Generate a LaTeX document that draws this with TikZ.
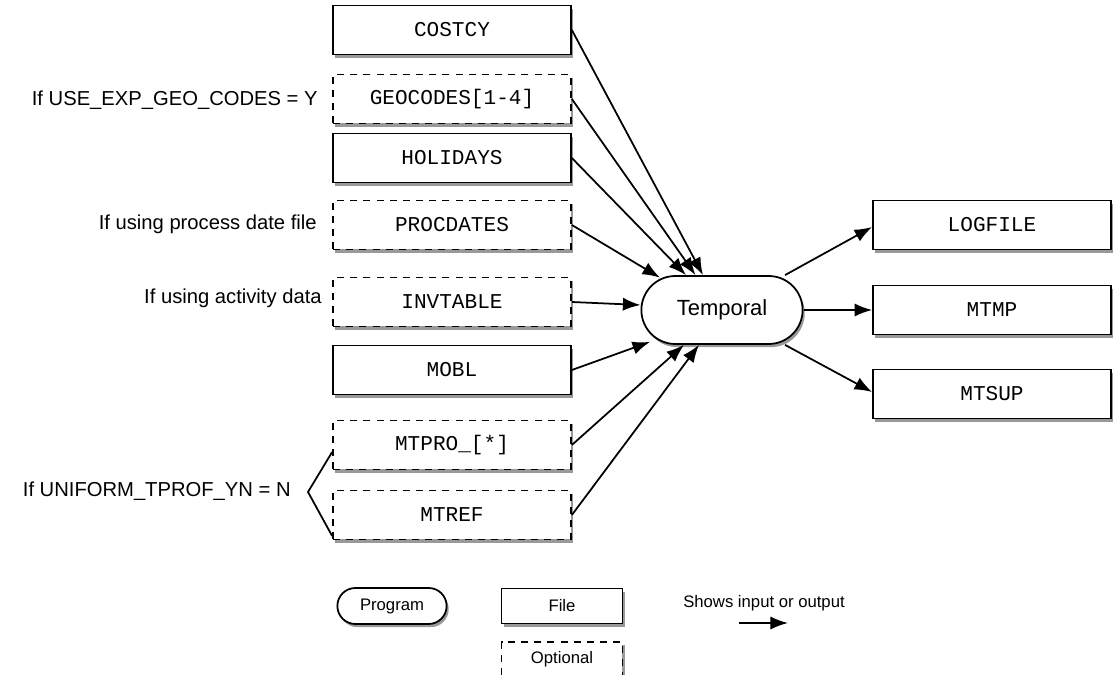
\documentclass[tikz,border=0pt]{standalone}
\usepackage{fontspec}
\setmainfont{Liberation Sans}
\setmonofont{Liberation Mono}
\usepackage{tikz}
\usetikzlibrary{shapes.misc, arrows.meta, positioning, shadows}

\begin{document}
\begin{tikzpicture}[
  x=0.02cm, y=-0.02cm,
  every node/.style = {font=\fontsize{11.5}{13}\selectfont},
  shade/.style     = {drop shadow={shadow xshift=1.2pt, shadow yshift=-1.8pt,
                      fill=black, opacity=0.4}},
  filebox/.style   = {rectangle, draw=black, line width=1pt, fill=white,
                      minimum width=4.76cm, minimum height=0.98cm, shade,
                      font=\ttfamily\fontsize{12}{14}\selectfont},
  optbox/.style    = {filebox, dash pattern=on 4pt off 3.5pt},
  program/.style   = {rounded rectangle, draw=black, line width=1pt,
                      fill=white, minimum width=3.46cm,
                      minimum height=1.36cm, shade,
                      font=\fontsize{12.5}{15}\selectfont},
  note/.style      = {anchor=east, inner sep=0pt},
  legprog/.style   = {program, minimum width=2.42cm, minimum height=0.72cm,
                      font=\fontsize{9.5}{11}\selectfont},
  legfile/.style   = {filebox, minimum width=2.42cm, minimum height=0.7cm,
                      font=\fontsize{9.5}{11}\selectfont},
  legopt/.style    = {legfile, dash pattern=on 4pt off 3.5pt},
  arrow/.style     = {-{Latex[length=10pt,width=7.5pt]}, line width=1pt}
]
\useasboundingbox (0,0) rectangle (1120,675);

% --- program ---
\node[program] (temporal) at (722,310) {Temporal};

% --- inputs (left column) ---
\node[filebox] (costcy)    at (452,30)  {COSTCY};
\node[optbox]  (geocodes)  at (452,99)  {GEOCODES[1-4]};
\node[filebox] (holidays)  at (452,158) {HOLIDAYS};
\node[optbox]  (procdates) at (452,225) {PROCDATES};
\node[optbox]  (invtable)  at (452,302) {INVTABLE};
\node[filebox] (mobl)      at (452,370) {MOBL};
\node[optbox]  (mtpro)     at (452,445) {MTPRO\_[*]};
\node[optbox]  (mtref)     at (452,515) {MTREF};

% --- outputs (right column) ---
\node[filebox] (logfile) at (992,225) {LOGFILE};
\node[filebox] (mtmp)    at (992,310) {MTMP};
\node[filebox] (mtsup)   at (992,394) {MTSUP};

% --- conditions ---
\node[note] (ifgeo)  at (318,100) {If USE\_EXP\_GEO\_CODES = Y};
\node[note] (ifproc) at (317,224) {If using process date file};
\node[note] (ifact)  at (322,298) {If using activity data};
\node[note] (ifprof) at (291,491) {If UNIFORM\_TPROF\_YN = N};
\coordinate (brtip) at (308,492);
\draw[line width=1pt] ([yshift=-0.14cm]mtpro.west) -- (brtip)
                      -- ([yshift=-0.42cm]mtref.west);

% --- Arrows in ---
\draw[arrow] (costcy.east)    -- ([xshift=-0.38cm]temporal.north);
\draw[arrow] (geocodes.east)  -- ([xshift=-0.53cm]temporal.north);
\draw[arrow] (holidays.east)  -- ([xshift=-0.72cm]temporal.north);
\draw[arrow] (procdates.east) -- ([xshift=-1.24cm,yshift=-0.05cm]temporal.north);
\draw[arrow] (invtable.east)  -- ([yshift=0.1cm]temporal.west);
\draw[arrow] (mobl.east)      -- ([xshift=-1.44cm,yshift=0.06cm]temporal.south);
\draw[arrow] (mtpro.east)     -- ([xshift=-0.76cm]temporal.south);
\draw[arrow] (mtref.east)     -- ([xshift=-0.46cm]temporal.south);

% --- Arrows out ---
\draw[arrow] ([xshift=1.26cm]temporal.north) -- ([yshift=-0.04cm]logfile.west);
\draw[arrow] (temporal.east) -- (mtmp.west);
\draw[arrow] ([xshift=1.26cm]temporal.south) -- ([yshift=0.04cm]mtsup.west);

% --- legend ---
\node[legprog] (legprog) at (392,606) {Program};
\node[legfile] (legfile) at (562,606) {File};
\node[legopt, below=0.33cm of legfile] (legopt) {Optional};
\node (legtext) at (764,603) {\fontsize{9.5}{11}\selectfont Shows input or output};
\coordinate (lega) at (739,623);
\coordinate (legb) at (788,623);
\draw[arrow] (lega) -- (legb);

\end{tikzpicture}
\end{document}
